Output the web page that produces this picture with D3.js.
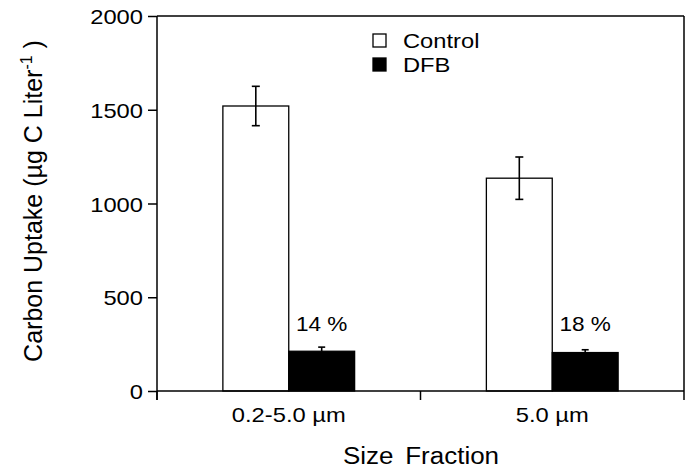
<!DOCTYPE html>
<html><head><meta charset="utf-8">
<script src="https://cdn.jsdelivr.net/npm/d3@7"></script>
<style>body{margin:0;background:#fff}svg{display:block}text{font-family:"Liberation Sans",Arial,sans-serif;fill:#000}</style>
</head><body><svg id="c" width="690" height="469"></svg>
<script>
const categories = ["0.2-5.0 µm", "5.0 µm"];
const series = ["Control", "DFB"];
const controlValues = [1520, 1135];
const controlErrors = [105, 113];
const dfbValues = [212, 205];
const dfbErrors = [22, 15];
const percentLabels = ["14 %", "18 %"];
const yTicks = [0, 500, 1000, 1500, 2000];

const svg = d3.select("#c");
const L = 157, R = 684, T = 16, B = 391;
const SX = 1.13;
const x = d3.scaleBand().domain(categories).range([L, R]).paddingInner(0).paddingOuter(0);
const sub = d3.scaleBand().domain(series).range([0, x.bandwidth()]).paddingInner(0).paddingOuter(1.0);
const y = d3.scaleLinear().domain([0, 2000]).range([B, T]);

function stretch(sel){
  sel.each(function(){
    const t = d3.select(this);
    const xx = +t.attr("x") || 0;
    t.attr("x", xx / SX).attr("transform", `scale(${SX},1)`);
  });
}

// frame
svg.append("line").attr("x1", L).attr("x2", R).attr("y1", T).attr("y2", T).attr("stroke", "#000").attr("stroke-width", 1.5);
svg.append("line").attr("x1", R).attr("x2", R).attr("y1", T).attr("y2", B).attr("stroke", "#000").attr("stroke-width", 1.5);

// bars
const data = categories.map((c, i) => ({c, vals: [
  {s: "Control", v: controlValues[i], e: controlErrors[i]},
  {s: "DFB", v: dfbValues[i], e: dfbErrors[i]}
]}));
const g = svg.selectAll("g.grp").data(data).join("g").attr("class", "grp")
  .attr("transform", d => `translate(${x(d.c)},0)`);
g.selectAll("rect").data(d => d.vals).join("rect")
  .attr("x", d => sub(d.s)).attr("width", sub.bandwidth())
  .attr("y", d => y(d.v)).attr("height", d => y(0) - y(d.v))
  .attr("fill", d => d.s === "Control" ? "#fff" : "#000")
  .attr("stroke", "#000").attr("stroke-width", 1.3);
// error bars
g.each(function(d){
  const gg = d3.select(this);
  d.vals.forEach(v => {
    const cx = sub(v.s) + sub.bandwidth() / 2;
    const cw = v.s === "Control" ? 4 : 3.5;
    const eg = gg.append("g").attr("stroke", "#000").attr("stroke-width", 1.6);
    const lo = v.s === "Control" ? v.v - v.e : v.v;
    eg.append("line").attr("x1", cx).attr("x2", cx).attr("y1", y(v.v + v.e)).attr("y2", y(lo));
    eg.append("line").attr("x1", cx - cw).attr("x2", cx + cw).attr("y1", y(v.v + v.e)).attr("y2", y(v.v + v.e));
    if (v.s === "Control")
      eg.append("line").attr("x1", cx - cw).attr("x2", cx + cw).attr("y1", y(lo)).attr("y2", y(lo));
  });
});
// percent labels
g.append("text").attr("x", d => sub("DFB") + sub.bandwidth() / 2).attr("y", 331)
  .attr("text-anchor", "middle").attr("font-size", 20).text((d, i) => percentLabels[i]).call(stretch);

// y axis
const ya = svg.append("g").attr("transform", `translate(${L},0)`)
  .call(d3.axisLeft(y).tickValues(yTicks).tickSize(9).tickPadding(5).tickFormat(d3.format("d")));
ya.select(".domain").attr("stroke-width", 1.5).attr("d", `M0,${T}V${B + 9}`);
ya.selectAll(".tick line").attr("stroke-width", 1.5);
ya.selectAll("text").attr("font-size", 21).attr("font-family", "Liberation Sans, Arial, sans-serif").attr("dy", "0.36em").call(stretch);

// x axis
const xa = svg.append("g").attr("transform", `translate(0,${B})`)
  .call(d3.axisBottom(x).tickSize(0).tickPadding(16));
xa.select(".domain").attr("stroke-width", 1.5).attr("d", `M${L},0H${R}`);
xa.selectAll(".tick line").remove();
xa.selectAll("text").attr("font-size", 21).attr("font-family", "Liberation Sans, Arial, sans-serif").call(stretch);
const bounds = [L, L + x.bandwidth(), R];
svg.append("g").selectAll("line").data(bounds).join("line")
  .attr("x1", d => d).attr("x2", d => d).attr("y1", B).attr("y2", B + 9)
  .attr("stroke", "#000").attr("stroke-width", 1.5);

// axis titles
svg.append("text").attr("x", 421).attr("y", 464).attr("text-anchor", "middle")
  .attr("font-size", 23).attr("word-spacing", 4).text("Size Fraction").call(stretch);
const yl = svg.append("text").attr("transform", "translate(42,201) rotate(-90)")
  .attr("text-anchor", "middle").attr("font-size", 25);
yl.append("tspan").text("Carbon Uptake (µg C Liter");
yl.append("tspan").attr("font-size", 16).attr("dy", -10).text("-1");
yl.append("tspan").attr("dy", 10).text(" )");

// legend
const lg = svg.append("g");
series.forEach((s, i) => {
  lg.append("rect").attr("x", 373).attr("y", 34 + i * 24).attr("width", 13).attr("height", 13)
    .attr("fill", i === 0 ? "#fff" : "#000").attr("stroke", "#000").attr("stroke-width", 1.3);
  lg.append("text").attr("x", 403).attr("y", 48 + i * 24).attr("font-size", 21).text(s).call(stretch);
});
</script></body></html>
